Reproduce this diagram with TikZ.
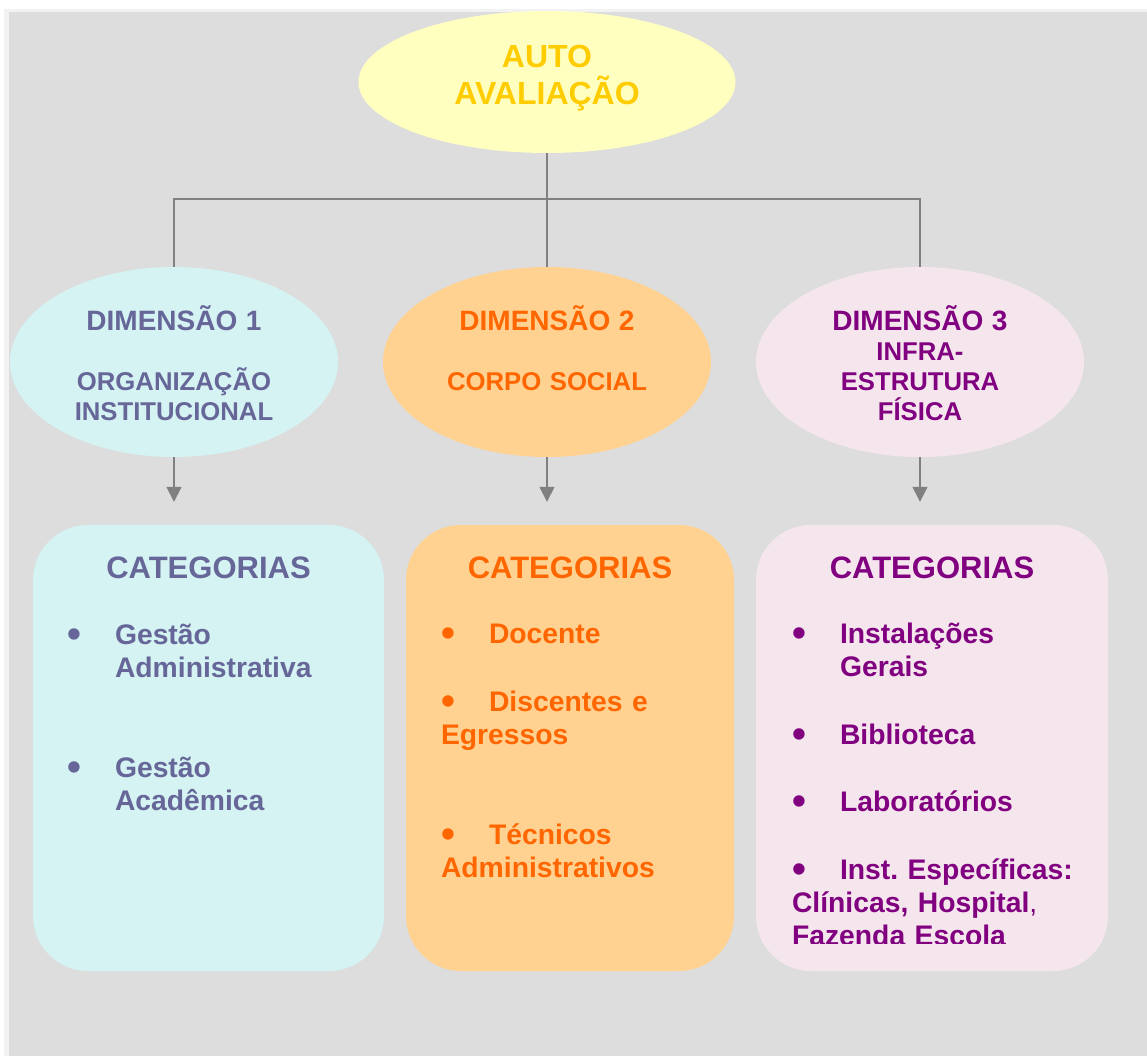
\documentclass[tikz,border=0pt]{standalone}
\usepackage{xcolor}
\usepackage{fontspec}
\setmainfont{Liberation Sans}
\usetikzlibrary{positioning,shapes.geometric,arrows.meta}
\frenchspacing

\definecolor{bggray}{HTML}{DDDDDD}
\definecolor{edgegray}{HTML}{F2F2F2}
\definecolor{linegray}{HTML}{808080}
\definecolor{autofill}{HTML}{FFFFC0}
\definecolor{autotext}{HTML}{FFCC00}
\definecolor{orgfill}{HTML}{D4F3F2}
\definecolor{orgtext}{HTML}{666699}
\definecolor{socfill}{HTML}{FFD292}
\definecolor{soctext}{HTML}{FF6600}
\definecolor{infrafill}{HTML}{F5E6EE}
\definecolor{infratext}{HTML}{800080}

\newcommand{\bul}{\makebox[48pt][l]{\raisebox{-3pt}{\scalebox{1.4}{•}}}}
\newcommand{\ind}{\hspace*{48pt}}

\tikzset{
  dimshape/.style={ellipse, inner sep=0, minimum width=328, minimum height=190},
  dimtext/.style={anchor=base, align=center, text width=300,
    font=\fontsize{25.7}{30}\selectfont\bfseries},
  catbox/.style={rectangle, rounded corners=55, inner sep=0, minimum height=446},
  cathead/.style={anchor=base, font=\fontsize{31}{36}\selectfont\bfseries},
  catlist/.style={anchor=base west, align=left, text width=320, inner sep=0,
    font=\fontsize{28.3}{33}\selectfont\bfseries},
  link/.style={draw=linegray, line width=1.5},
  down/.style={draw=linegray, line width=1.5, -{Triangle[width=15,length=15]}}
}

\begin{document}
\begin{tikzpicture}[x=1pt, y=-1pt]
  \useasboundingbox (0,0) rectangle (1147,1056);
  \fill[edgegray] (4,9) rectangle (1147,1056);
  \fill[bggray] (9,12) rectangle (1147,1056);

  % top
  \node[ellipse, inner sep=0, minimum width=377, minimum height=142, fill=autofill] (auto) at (547,82) {};
  \node[anchor=base, align=center, text width=300, text=autotext,
    font=\fontsize{32}{37}\selectfont\bfseries] (autotxt) at ([yshift=14pt]auto.center) {AUTO\\AVALIAÇÃO};

  % dimensions
  \node[dimshape, fill=orgfill] (dim1) at (174,362) {};
  \node[dimshape, fill=socfill] (dim2) at (547,362) {};
  \node[dimshape, fill=infrafill] (dim3) at (920,362) {};

  \node[dimtext, text=orgtext] (dim1txt) at ([yshift=32pt]dim1.center)
    {{\fontsize{28}{30}\selectfont DIMENSÃO 1}\\[30pt]ORGANIZAÇÃO\\INSTITUCIONAL};
  \node[dimtext, text=soctext] (dim2txt) at ([yshift=32pt]dim2.center)
    {{\fontsize{28}{30}\selectfont DIMENSÃO 2}\\[30pt]CORPO SOCIAL};
  \node[dimtext, text=infratext] (dim3txt) at ([yshift=32pt]dim3.center)
    {{\fontsize{28}{30}\selectfont DIMENSÃO 3}\\INFRA-\\ESTRUTURA\\FÍSICA};

  % Connectors
  \coordinate (fork) at (547,199);
  \draw[link] (auto.south) -- (dim2.north);
  \draw[link] (dim1.north) |- (fork) -| (dim3.north);

  % categories
  \node[catbox, fill=orgfill, minimum width=351] (cat1) at (208.5,748) {};
  \node[catbox, fill=socfill, minimum width=328] (cat2) at (570,748) {};
  \node[catbox, fill=infrafill, minimum width=352] (cat3) at (932,748) {};

  \draw[down, shorten >=23pt] (dim1.south) -- (dim1.south |- cat1.north);
  \draw[down, shorten >=23pt] (dim2.south) -- (dim2.south |- cat2.north);
  \draw[down, shorten >=23pt] (dim3.south) -- (dim3.south |- cat3.north);

  \node[cathead, text=orgtext] (cat1h) at ([yshift=-54pt]cat1.north) {CATEGORIAS};
  \node[cathead, text=soctext] (cat2h) at ([yshift=-54pt]cat2.north) {CATEGORIAS};
  \node[cathead, text=infratext] (cat3h) at ([yshift=-54pt]cat3.north) {CATEGORIAS};

  \node[catlist, text=orgtext] (cat1l) at ([xshift=34pt, yshift=-120pt]cat1.north west)
    {\bul Gestão\\\ind Administrativa\\[67pt]\bul Gestão\\\ind Acadêmica};
  \node[catlist, text=soctext] (cat2l) at ([xshift=35pt, yshift=-119pt]cat2.north west)
    {\bul Docente\\[35pt]\bul Discentes e\\Egressos\\[67pt]\bul Técnicos\\Administrativos};
  \begin{scope}
    \clip (cat3.north west) rectangle (1147,943);
    \node[catlist, text=infratext] (cat3l) at ([xshift=36pt, yshift=-119pt]cat3.north west)
      {\bul Instalações\\\ind Gerais\\[35pt]\bul Biblioteca\\[34pt]\bul Laboratórios\\[35pt]%
       \bul Inst. Específicas:\\Clínicas, Hospital{\mdseries ,}\\Fazenda Escola};
  \end{scope}
\end{tikzpicture}
\end{document}
